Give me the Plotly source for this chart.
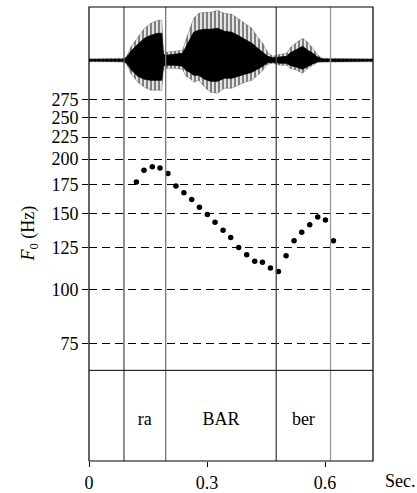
import math
import plotly.graph_objects as go

# ---------------- data ----------------
# F0 track (seconds, Hz)
f0_time = [0.1205, 0.1398, 0.1609, 0.1805, 0.2006, 0.2210, 0.2413, 0.2611, 0.2807,
           0.3010, 0.3204, 0.3408, 0.3603, 0.3806, 0.4010, 0.4213, 0.4409, 0.4612,
           0.4816, 0.5010, 0.5213, 0.5408, 0.5612, 0.5815, 0.6011, 0.6214]
f0_hz = [177.2, 188.6, 192.0, 190.9, 185.3, 173.5, 167.2, 161.4, 154.9,
         149.0, 143.0, 137.1, 131.9, 125.0, 120.2, 116.2, 115.6, 112.0,
         110.0, 119.6, 129.5, 135.6, 141.0, 147.1, 144.6, 129.5]

# waveform amplitude envelopes (seconds; arbitrary units)
wave_time = [0.000, 0.053, 0.088, 0.096, 0.106, 0.124, 0.141, 0.157, 0.175, 0.185,
             0.189, 0.195, 0.218, 0.238, 0.246, 0.256, 0.266, 0.279, 0.294, 0.309,
             0.327, 0.344, 0.363, 0.378, 0.396, 0.414, 0.429, 0.442, 0.454, 0.467,
             0.485, 0.503, 0.510, 0.528, 0.543, 0.556, 0.569, 0.582, 0.594, 0.722]
# peak envelope (tips of the pulses)
wave_hi = [1.5, 1.5, 2, 4, 13, 23, 32, 37, 40, 40,
           10, 8, 9, 10, 20, 30, 42, 47, 48, 48,
           50, 47, 46, 42, 37, 32, 23, 17, 8, 4,
           6, 7, 12, 18, 22, 18, 12, 5, 2, 1.5]
wave_lo = [-1.5, -1.5, -2, -4, -13, -22, -27, -30, -30, -30,
           -10, -8, -8, -9, -16, -18, -22, -20, -27, -32,
           -33, -28, -28, -25, -22, -20, -15, -10, -4, -3,
           -5, -5, -8, -10, -13, -8, -5, -2, -2, -1.5]
# solid core envelope
core_hi = [0.8, 0.8, 1.0, 3, 9, 16, 22, 25, 27, 27,
           6, 5, 6, 7, 13, 20, 28, 30, 31, 31,
           32, 29, 28, 25, 21, 17, 12, 8, 4, 2.5,
           3.5, 4, 7, 11, 14, 10, 7, 3, 1.2, 0.8]
core_lo = [-0.8, -0.8, -1.0, -3, -9, -16, -19, -20, -20, -20,
           -6, -5, -5, -6, -10, -12, -15, -15, -19, -21,
           -21, -18, -18, -16, -14, -12, -9, -6, -2.5, -2,
           -3, -3, -5, -7, -9, -6, -3.5, -1.5, -1.2, -0.8]

# segment tier
boundaries = [0.0889, 0.195, 0.476, 0.614]
boundary_colors = ["#555555", "#777777", "#444444", "#999999"]
seg_labels = ["ra", "BAR", "ber"]

x_ticks = [0, 0.3, 0.6]
x_ticklabels = ["0", "0.3", "0.6"]
y_ticks = [75, 100, 125, 150, 175, 200, 225, 250, 275]
x_max = 0.722

FONT = "Liberation Serif, Times New Roman, serif"
FS = 18

# domains (fractions of plot height)
tier_top = 0.19965
f0_top = 0.80123

fig = go.Figure()

# waveform: hatched pulse envelope + solid core
fig.add_trace(go.Scatter(
    x=wave_time + wave_time[::-1],
    y=wave_hi + wave_lo[::-1],
    fill="toself", mode="lines",
    fillpattern=dict(shape="|", fgcolor="black", bgcolor="white", size=4, solidity=0.6),
    line=dict(color="rgba(0,0,0,0.5)", width=0.5),
    xaxis="x", yaxis="y2", hoverinfo="skip"))
fig.add_trace(go.Scatter(
    x=wave_time + wave_time[::-1],
    y=core_hi + core_lo[::-1],
    fill="toself", fillcolor="black", mode="lines",
    line=dict(color="black", width=0.8),
    xaxis="x", yaxis="y2", hoverinfo="skip"))

# F0 dots
fig.add_trace(go.Scatter(
    x=f0_time, y=f0_hz, mode="markers",
    marker=dict(color="black", size=5.5),
    xaxis="x", yaxis="y"))

# segment labels
seg_centers = [(boundaries[i] + boundaries[i + 1]) / 2 for i in range(len(seg_labels))]
fig.add_trace(go.Scatter(
    x=seg_centers, y=[0.5] * len(seg_labels), text=seg_labels, mode="text",
    textfont=dict(family=FONT, size=FS, color="black"),
    xaxis="x", yaxis="y3"))

shapes = []
for b, c in zip(boundaries, boundary_colors):
    shapes.append(dict(type="line", xref="x", yref="paper", x0=b, x1=b, y0=0, y1=1,
                       line=dict(color=c, width=1.3)))
shapes.append(dict(type="line", xref="paper", yref="paper", x0=0, x1=1,
                   y0=tier_top, y1=tier_top, line=dict(color="black", width=1)))
shapes.append(dict(type="rect", xref="paper", yref="paper", x0=0, x1=1, y0=0, y1=1,
                   line=dict(color="black", width=1.2)))

fig.update_layout(
    width=417, height=493,
    margin=dict(l=89.3, r=43.7, t=6.7, b=32),
    paper_bgcolor="white", plot_bgcolor="white",
    showlegend=False,
    font=dict(family=FONT, size=FS, color="black"),
    xaxis=dict(domain=[0, 1], anchor="y3", range=[0, x_max], automargin=False,
               tickvals=x_ticks, ticktext=x_ticklabels,
               ticks="outside", ticklen=5, tickcolor="black", tickwidth=1,
               ticklabelstandoff=0,
               showgrid=False, zeroline=False, showline=False,
               tickfont=dict(family=FONT, size=FS, color="black")),
    yaxis=dict(domain=[tier_top, f0_top], anchor="x", type="log", automargin=False,
               range=[math.log10(65.0), math.log10(278.1)],
               tickvals=y_ticks, ticktext=[str(v) for v in y_ticks],
               ticks="outside", ticklen=6, tickcolor="black", tickwidth=1,
               showgrid=True, gridcolor="black", gridwidth=1, griddash="8px,5px",
               zeroline=False, showline=False,
               tickfont=dict(family=FONT, size=FS, color="black")),
    yaxis2=dict(domain=[f0_top, 1], anchor="x", range=[-37, 53.3], automargin=False,
                showgrid=False, zeroline=False, showticklabels=False, ticks=""),
    yaxis3=dict(domain=[0, tier_top], anchor="x", range=[0.05, 1.05], automargin=False,
                showgrid=False, zeroline=False, showticklabels=False, ticks=""),
    shapes=shapes,
    annotations=[
        dict(text="<i>F</i><sub>0</sub> (Hz)", textangle=-90, showarrow=False,
             xref="paper", x=0, xanchor="center", xshift=-59.3,
             yref="y domain", y=0.5, yanchor="middle",
             font=dict(family=FONT, size=FS, color="black")),
        dict(text="Sec.", showarrow=False,
             xref="paper", x=1, xanchor="left", xshift=10,
             yref="paper", y=0, yanchor="middle", yshift=-19.7,
             font=dict(family=FONT, size=FS, color="black")),
    ],
)

fig.write_html("out.html", config={"displayModeBar": False},
               post_script="document.body.style.margin='0';document.body.style.overflow='hidden';")
